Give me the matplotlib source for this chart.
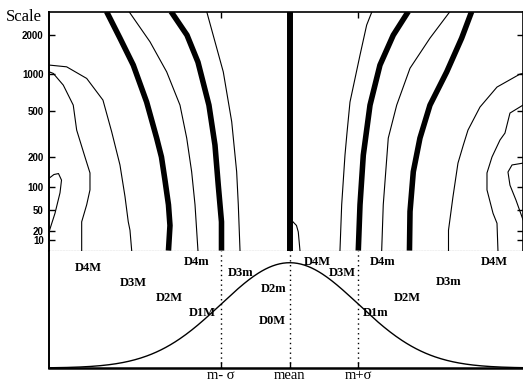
import numpy as np
import matplotlib
matplotlib.use("Agg")
import matplotlib.pyplot as plt

# ---------------- data (x in units of sigma from the mean, y = scale) -------------
# thick curves
xA = [-1.767, -1.745, -1.767, -1.818, -1.869, -1.939, -2.085, -2.280, -2.474, -2.670]
yA = [0, 27, 60, 118, 200, 296, 593, 1164, 1880, 3000]
xB = [-0.994, -0.994, -1.041, -1.089, -1.177, -1.337, -1.497, -1.730]
yB = [0, 32, 104, 257, 560, 1228, 1982, 3000]
xMean = [0.0, 0.0]
yMean = [0, 3000]
xG = [1.000, 1.025, 1.073, 1.171, 1.316, 1.510, 1.729]
yG = [0, 60, 208, 560, 1164, 1982, 3000]
xI = [1.746, 1.754, 1.802, 1.899, 2.045, 2.289, 2.507, 2.653]
yI = [0, 48, 144, 296, 560, 1030, 1880, 3000]

# thin curves
xC = [-1.337, -1.380, -1.429, -1.501, -1.599, -1.793, -2.036, -2.343]
yC = [0, 60, 144, 296, 560, 1030, 1761, 3000]
xD = [-0.724, -0.749, -0.773, -0.845, -0.968, -1.210]
yD = [0, 60, 144, 408, 1030, 3000]
xE = [0.048, 0.099, 0.125, 0.150]
yE = [32, 27, 19, 0]
xF = [0.733, 0.758, 0.806, 0.835, 0.879, 1.025, 1.122, 1.200]
yF = [0, 60, 208, 327, 593, 1391, 2365, 3000]
xH = [1.341, 1.364, 1.437, 1.560, 1.754, 2.045, 2.337]
yH = [0, 60, 296, 560, 1100, 1880, 3000]
xJ = [2.315, 2.315, 2.380, 2.453, 2.531, 2.599, 2.774, 3.022, 3.357, 3.401]
yJ = [0, 21, 76, 175, 257, 347, 540, 782, 990, 1000]
xK = [3.036, 3.022, 2.964, 2.876, 2.876, 2.949, 3.066, 3.138, 3.211, 3.401]
yK = [0, 30, 45, 92, 140, 200, 285, 327, 482, 560]
xRloop = [3.401, 3.299, 3.211, 3.182, 3.241, 3.401]
yRloop = [35, 69, 104, 143, 168, 175]
xL = [-3.032, -3.032, -2.959, -2.911, -2.911, -2.984, -3.105, -3.155, -3.300, -3.446, -3.504]
yL = [0, 32, 60, 92, 140, 200, 347, 560, 810, 1002, 1030]
xM = [-2.303, -2.328, -2.353, -2.401, -2.474, -2.595, -2.722, -2.959, -3.251, -3.504]
yM = [0, 21, 32, 77, 168, 336, 615, 915, 1128, 1164]
xLloop = [-3.504, -3.421, -3.348, -3.326, -3.370, -3.436, -3.504]
yLloop = [20, 45, 85, 118, 138, 135, 124]

scale_ticks = [10, 20, 50, 100, 200, 500, 1000, 2000]
sigma_ticks = [-1, 0, 1]
sigma_labels = ["m- σ", "mean", "m+σ"]

# Gaussian profile parameters
g_mean, g_sigma, g_peak = 0.0, 1.0, 1.0

# labels of extrema regions: (text, x, y) in bottom-panel data units
region_labels = ["D4M", "D3M", "D2M", "D1M", "D4m", "D3m", "D2m", "D0M",
                 "D4M", "D3M", "D1m", "D4m", "D2M", "D3m", "D4M"]
region_x = [-2.93, -2.28, -1.76, -1.28, -1.36, -0.72, -0.24, -0.26,
            0.40, 0.76, 1.25, 1.36, 1.72, 2.32, 2.98]
region_y = [0.950, 0.807, 0.665, 0.522, 1.002, 0.902, 0.755, 0.446,
            1.007, 0.907, 0.522, 1.002, 0.665, 0.817, 1.002]

# ---------------- figure ----------------
W, H = 523, 386
fig = plt.figure(figsize=(W / 100, H / 100), dpi=100)

xlo, xhi = -3.504, 3.401
left_px, right_px = 49.3, 523.0
top_px, mid_px, bot_px = 11.5, 250.6, 368.0

ax = fig.add_axes([left_px / W, 1 - mid_px / H, (right_px - left_px) / W, (mid_px - top_px) / H])
axb = fig.add_axes([left_px / W, 1 - bot_px / H, (right_px - left_px) / W, (bot_px - mid_px) / H])

fwd = lambda y: np.log10(np.asarray(y, dtype=float) + 50.0)
inv = lambda v: 10.0 ** np.asarray(v, dtype=float) - 50.0
ax.set_yscale("function", functions=(fwd, inv))
ax.set_xlim(xlo, xhi)
ax.set_ylim(0, 3000)

thick_lw = 4.0
thin_lw = 0.8
for xs, ys in [(xA, yA), (xB, yB), (xG, yG), (xI, yI)]:
    ax.plot(xs, ys, color="black", lw=thick_lw, solid_capstyle="butt", solid_joinstyle="round")
ax.plot(xMean, yMean, color="black", lw=4.3, solid_capstyle="butt")
for xs, ys in [(xC, yC), (xD, yD), (xE, yE), (xF, yF), (xH, yH), (xJ, yJ),
               (xK, yK), (xRloop, yRloop), (xL, yL), (xM, yM), (xLloop, yLloop)]:
    ax.plot(xs, ys, color="black", lw=thin_lw)

ax.set_yticks(scale_ticks)
ax.set_yticklabels([str(t) for t in scale_ticks], fontfamily="Liberation Sans",
                   fontweight="bold", fontsize=7)
ax.yaxis.set_minor_locator(matplotlib.ticker.NullLocator())
ax.tick_params(axis="y", which="both", direction="in", length=4, width=1, pad=4,
               left=True, right=True)
ax.set_xticks(sigma_ticks)
ax.tick_params(axis="x", direction="in", length=4, width=1, top=True, bottom=False,
               labelbottom=False)
ax.spines["top"].set_linewidth(1.2)
ax.spines["left"].set_linewidth(1.4)
ax.spines["right"].set_linewidth(1.2)
ax.spines["bottom"].set_linestyle((0, (1, 1.5)))
ax.spines["bottom"].set_linewidth(0.8)

# ---------------- bottom panel ----------------
gx = np.linspace(xlo, xhi, 400)
gy = g_peak * np.exp(-0.5 * ((gx - g_mean) / g_sigma) ** 2)
axb.plot(gx, gy, color="black", lw=1.0)
axb.set_xlim(xlo, xhi)
axb.set_ylim(0, 1.115)
for xv in sigma_ticks:
    axb.axvline(xv, color="black", lw=1.0, ls=(0, (1, 2.5)))
axb.set_xticks(sigma_ticks)
axb.set_xticklabels(sigma_labels, fontfamily="Liberation Serif", fontsize=10.5)
axb.tick_params(axis="x", direction="in", length=4, width=1, pad=0.5)
axb.set_yticks([])
axb.spines["top"].set_visible(False)
axb.spines["right"].set_visible(False)
axb.spines["bottom"].set_linewidth(1.8)
axb.spines["left"].set_linewidth(1.4)

for t, x, y in zip(region_labels, region_x, region_y):
    axb.text(x, y, t, ha="center", va="center", fontfamily="Liberation Serif",
             fontweight="bold", fontsize=9)

fig.text(24 / W, 1 - 17 / H, "Scale", ha="center", va="center",
         fontfamily="Liberation Serif", fontsize=12)

fig.savefig("out.png", dpi=100)
